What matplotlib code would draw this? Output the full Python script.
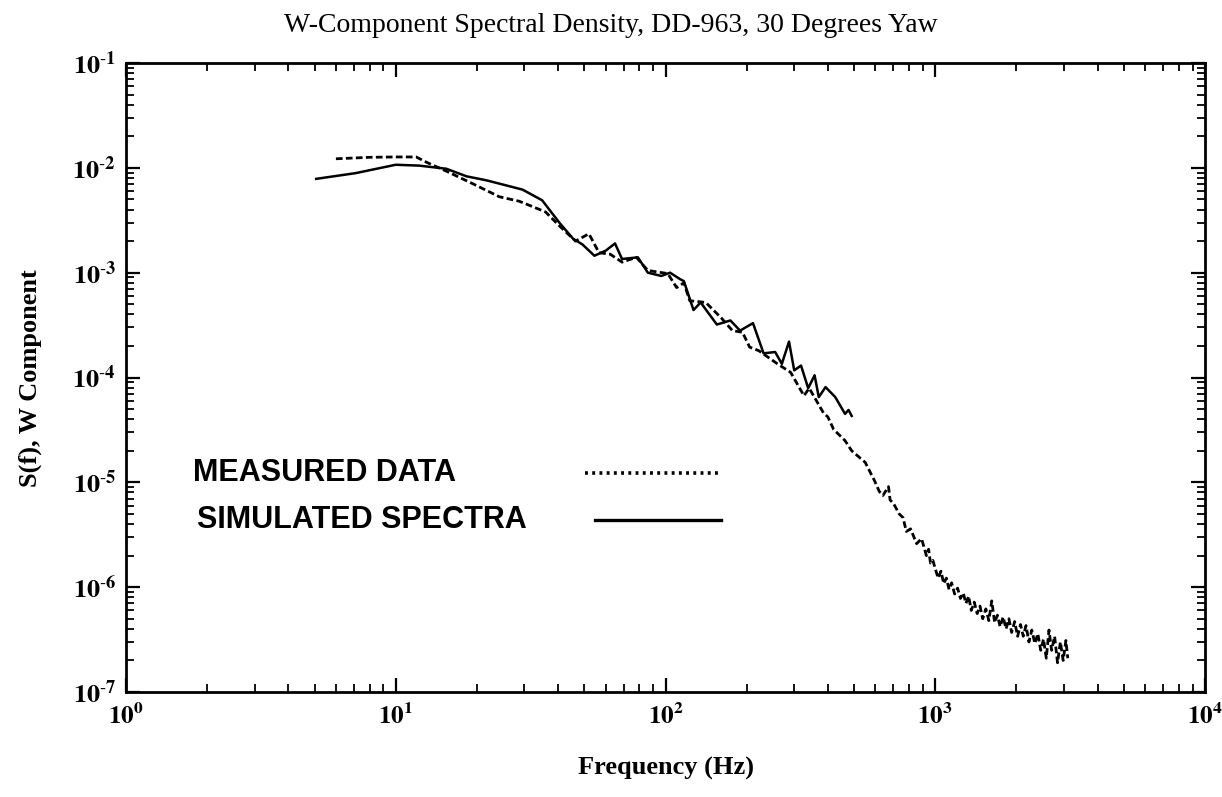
import math
import matplotlib
matplotlib.use("Agg")
import matplotlib.pyplot as plt
from matplotlib.ticker import LogLocator, FuncFormatter, NullFormatter
from matplotlib.lines import Line2D

# ---------------- data ----------------
meas_f = [6.0, 8.0, 10.0, 11.9, 13.1, 15.4, 19.2, 24.2, 28.7, 31.9, 35.9, 40.4,
          46.4, 52, 56.7, 62.4, 69, 78, 86, 102, 110, 117, 123, 141, 161, 177,
          193, 205, 222, 260, 291, 326, 341, 385, 400, 420, 463, 490, 550, 595,
          620, 640, 671, 680, 700, 735, 760, 781, 810, 853, 890, 927, 945, 960,
          980,
          1000, 1025, 1050, 1075, 1100, 1125, 1150, 1180, 1210, 1240, 1270,
          1300, 1330, 1360, 1395, 1430, 1465, 1500, 1540, 1580, 1620, 1660,
          1700, 1740, 1785, 1830, 1875, 1920, 1970, 2020, 2070, 2120, 2170,
          2225, 2280, 2340, 2400, 2460, 2520, 2580, 2640, 2700, 2770, 2840,
          2910, 2980, 3050, 3100]
meas_s = [1.22e-2, 1.26e-2, 1.27e-2, 1.27e-2, 1.12e-2, 9.3e-3, 7.1e-3, 5.3e-3,
          4.8e-3, 4.3e-3, 3.8e-3, 2.8e-3, 2.0e-3, 2.35e-3, 1.55e-3, 1.5e-3,
          1.26e-3, 1.4e-3, 1.05e-3, 9.8e-4, 7.2e-4, 8.0e-4, 5.4e-4, 5.2e-4,
          3.7e-4, 2.8e-4, 2.7e-4, 1.95e-4, 1.8e-4, 1.35e-4, 1.12e-4, 6.7e-5,
          7.9e-5, 4.6e-5, 4.2e-5, 3.2e-5, 2.5e-5, 2.0e-5, 1.55e-5, 1.04e-5,
          8.2e-6, 7.5e-6, 9.1e-6, 6.8e-6, 6.3e-6, 5.0e-6, 4.6e-6, 3.4e-6,
          3.6e-6, 2.6e-6, 2.9e-6, 2.0e-6, 2.3e-6, 1.7e-6, 1.8e-6,
          1.5e-6, 1.22e-6, 1.42e-6, 1.08e-6, 1.22e-6, 0.95e-6, 1.1e-6, 0.86e-6,
          0.98e-6, 0.78e-6, 0.88e-6, 0.7e-6, 0.82e-6, 0.6e-6, 0.72e-6, 0.56e-6,
          0.66e-6, 0.5e-6, 0.62e-6, 0.48e-6, 0.74e-6, 0.46e-6, 0.54e-6, 0.42e-6,
          0.52e-6, 0.4e-6, 0.5e-6, 0.37e-6, 0.47e-6, 0.34e-6, 0.44e-6,
          0.34e-6, 0.43e-6, 0.3e-6, 0.39e-6, 0.29e-6, 0.36e-6, 0.25e-6,
          0.32e-6, 0.21e-6, 0.39e-6, 0.25e-6, 0.34e-6, 0.19e-6, 0.3e-6,
          0.2e-6, 0.31e-6, 0.21e-6]

sim_f = [5.07, 7.1, 10.0, 12.2, 15.4, 18.3, 21.7, 29.5, 34.9, 40.4, 45.5, 49.2,
         54.5, 60, 65, 69, 79, 86, 96.5, 104, 113, 117, 127, 135, 155, 174,
         189, 211, 231, 255, 270, 287, 300, 318, 338, 357, 370, 392, 426, 463,
         477, 490]
sim_s = [7.85e-3, 8.9e-3, 1.07e-2, 1.05e-2, 9.8e-3, 8.3e-3, 7.6e-3, 6.2e-3,
         4.9e-3, 3.0e-3, 2.1e-3, 1.86e-3, 1.45e-3, 1.62e-3, 1.9e-3, 1.35e-3,
         1.4e-3, 1.0e-3, 9.3e-4, 1.0e-3, 8.7e-4, 8.3e-4, 4.4e-4, 5.2e-4,
         3.2e-4, 3.5e-4, 2.8e-4, 3.3e-4, 1.7e-4, 1.75e-4, 1.35e-4, 2.2e-4,
         1.17e-4, 1.3e-4, 7.9e-5, 1.05e-4, 6.5e-5, 8.1e-5, 6.5e-5, 4.5e-5,
         4.9e-5, 4.3e-5]

legend_labels = ["MEASURED DATA", "SIMULATED SPECTRA"]
title_text = "W-Component Spectral Density, DD-963, 30 Degrees Yaw"
x_label = "Frequency (Hz)"
y_label = "S(f), W Component"

# ---------------- figure ----------------
plt.rcParams['mathtext.fontset'] = 'stix'
W, H = 1222, 797
fig = plt.figure(figsize=(W / 100, H / 100), dpi=100)
ax = fig.add_axes([126 / W, 1 - 692 / H, (1205 - 126) / W, (692 - 63) / H])

ax.plot(meas_f, meas_s, color='black', lw=2.0, linestyle=(0, (2.4, 1.2)))
ax.plot(sim_f, sim_s, color='black', lw=1.8, linestyle='-')

ax.set_xscale('log')
ax.set_yscale('log')
ax.set_xlim(1, 1e4)
ax.set_ylim(1e-7, 1e-1)


def fmt(v, p):
    e = round(math.log10(v))
    if e < 0:
        return r'$\mathbf{10^{\text{-}%d}}$' % (-e)
    return r'$\mathbf{10^{%d}}$' % e


for axis in (ax.xaxis, ax.yaxis):
    axis.set_major_locator(LogLocator(base=10, numticks=20))
    axis.set_minor_locator(LogLocator(base=10, subs=range(2, 10), numticks=20))
    axis.set_minor_formatter(NullFormatter())
    axis.set_major_formatter(FuncFormatter(fmt))

ax.tick_params(which='both', direction='in', top=True, right=True, color='black')
ax.tick_params(which='major', length=10, width=1.6)
ax.tick_params(which='minor', length=6, width=1.3)
ax.tick_params(axis='x', which='major', labelsize=18, pad=8)
ax.tick_params(axis='y', which='major', labelsize=19, pad=7)
for sp in ax.spines.values():
    sp.set_linewidth(2.0)

# last x tick label (10^4) sits just left of the corner as in the reference
xt = ax.xaxis.get_major_ticks()

# legend drawn as text + sample lines
ax.text(0.062, 0.348, legend_labels[0], transform=ax.transAxes, fontsize=22,
        family='Liberation Sans', weight='bold', va='center', ha='left')
ax.text(0.066, 0.273, legend_labels[1], transform=ax.transAxes, fontsize=22,
        family='Liberation Sans', weight='bold', va='center', ha='left')
ax.add_line(Line2D([0.425, 0.551], [0.348, 0.348], transform=ax.transAxes,
                   color='black', lw=2.6, linestyle=(0, (0.8, 1.2))))
ax.add_line(Line2D([0.435, 0.551], [0.273, 0.273], transform=ax.transAxes,
                   color='black', lw=2.4, linestyle='-'))

fig.text(611 / W, 1 - 25 / H, title_text, ha='center', va='center',
         fontsize=20, family='Liberation Serif')
fig.text(666 / W, 1 - 768 / H, x_label, ha='center', va='center',
         fontsize=19, family='Liberation Serif', weight='bold')
fig.text(30 / W, 1 - 378 / H, y_label, ha='center', va='center', rotation=90,
         fontsize=19, family='Liberation Serif', weight='bold')

fig.savefig('out.png', dpi=100, facecolor='white')
